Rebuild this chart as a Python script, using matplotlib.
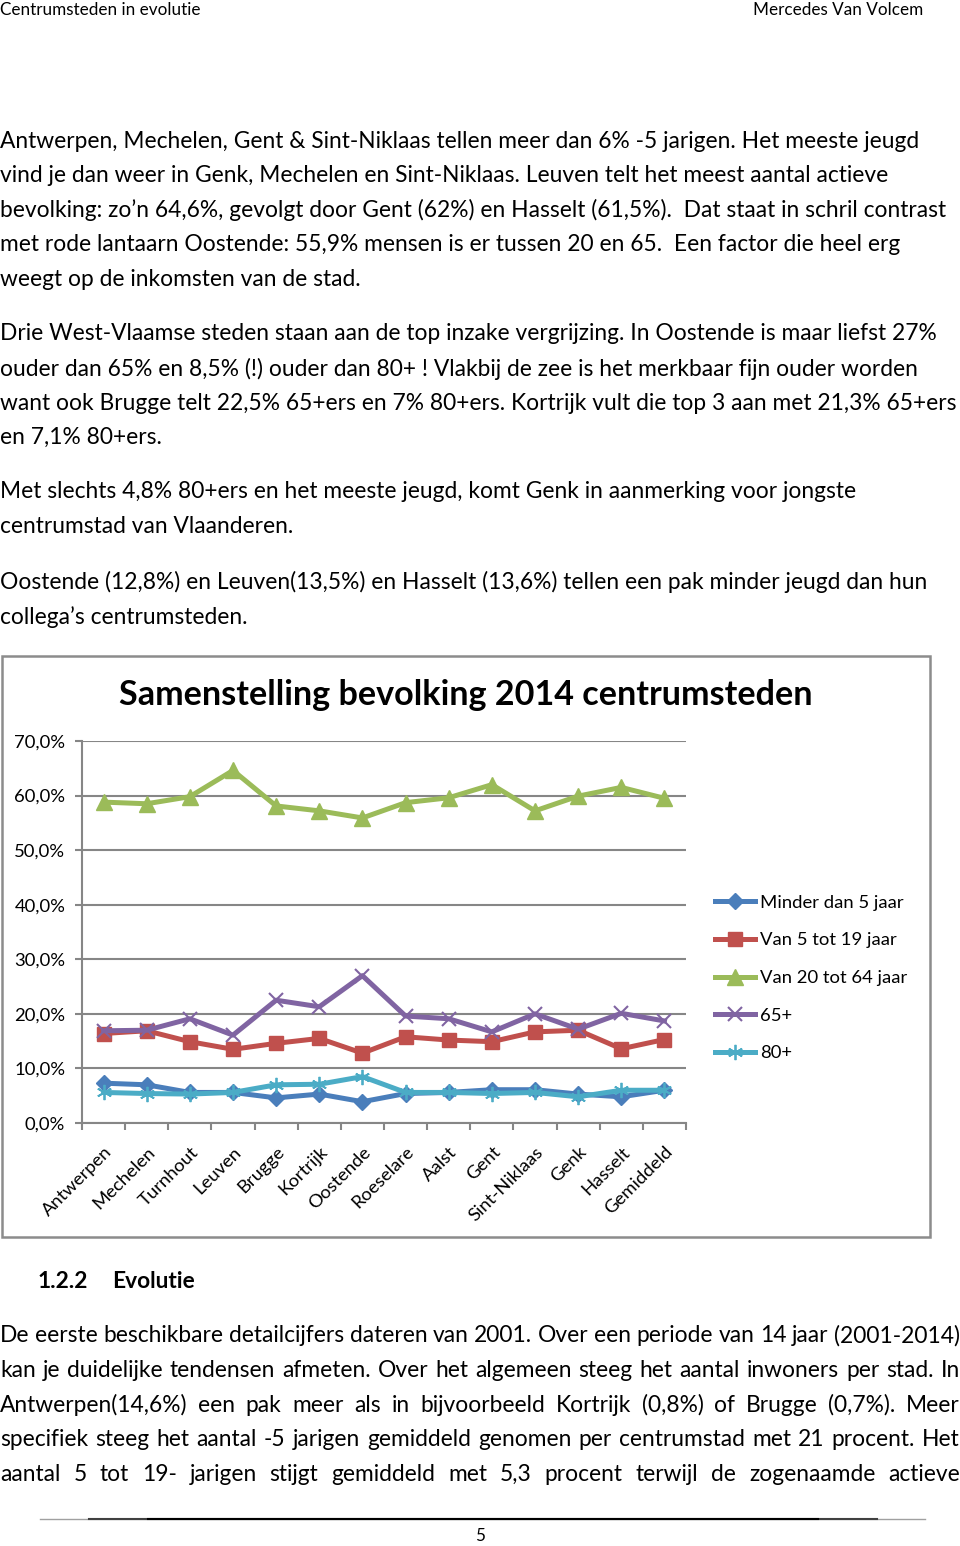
import matplotlib
matplotlib.use('Agg')
import matplotlib.pyplot as plt
from matplotlib.patches import Rectangle
from matplotlib.ticker import FixedLocator

FONT = ['Lato', 'DejaVu Sans']

steden = ['Antwerpen', 'Mechelen', 'Turnhout', 'Leuven', 'Brugge', 'Kortrijk',
          'Oostende', 'Roeselare', 'Aalst', 'Gent', 'Sint-Niklaas', 'Genk',
          'Hasselt', 'Gemiddeld']
minder_5 = [7.3, 7.0, 5.6, 5.6, 4.6, 5.3, 3.9, 5.4, 5.6, 6.1, 6.1, 5.3, 4.8, 6.0]
van_5_19 = [16.4, 16.9, 14.9, 13.5, 14.6, 15.5, 12.8, 15.8, 15.2, 14.9, 16.7, 17.0, 13.6, 15.3]
van_20_64 = [58.8, 58.5, 59.8, 64.6, 58.1, 57.2, 55.9, 58.7, 59.6, 62.0, 57.2, 59.9, 61.5, 59.5]
plus_65 = [16.9, 17.0, 19.1, 16.1, 22.5, 21.3, 27.0, 19.6, 19.1, 16.7, 20.0, 17.2, 20.1, 18.7]
plus_80 = [5.6, 5.4, 5.3, 5.6, 7.0, 7.1, 8.5, 5.6, 5.6, 5.4, 5.6, 4.8, 6.0, 6.0]
reeksen = ['Minder dan 5 jaar', 'Van 5 tot 19 jaar', 'Van 20 tot 64 jaar', '65+', '80+']
y_ticks = [0, 10, 20, 30, 40, 50, 60, 70]

para1 = ["Antwerpen, Mechelen, Gent & Sint-Niklaas tellen meer dan 6% -5 jarigen. Het meeste jeugd",
         "vind je dan weer in Genk, Mechelen en Sint-Niklaas. Leuven telt het meest aantal actieve",
         "bevolking: zo’n 64,6%, gevolgt door Gent (62%) en Hasselt (61,5%).  Dat staat in schril contrast",
         "met rode lantaarn Oostende: 55,9% mensen is er tussen 20 en 65.  Een factor die heel erg",
         "weegt op de inkomsten van de stad."]
para2 = ["Drie West-Vlaamse steden staan aan de top inzake vergrijzing. In Oostende is maar liefst 27%",
         "ouder dan 65% en 8,5% (!) ouder dan 80+ ! Vlakbij de zee is het merkbaar fijn ouder worden",
         "want ook Brugge telt 22,5% 65+ers en 7% 80+ers. Kortrijk vult die top 3 aan met 21,3% 65+ers",
         "en 7,1% 80+ers."]
para3 = ["Met slechts 4,8% 80+ers en het meeste jeugd, komt Genk in aanmerking voor jongste",
         "centrumstad van Vlaanderen."]
para4 = ["Oostende (12,8%) en Leuven(13,5%) en Hasselt (13,6%) tellen een pak minder jeugd dan hun",
         "collega’s centrumsteden."]
para5 = ["De eerste beschikbare detailcijfers dateren van 2001. Over een periode van 14 jaar (2001-2014)",
         "kan je duidelijke tendensen afmeten. Over het algemeen steeg het aantal inwoners per stad.  In",
         "Antwerpen(14,6%) een pak meer als in bijvoorbeeld Kortrijk (0,8%) of Brugge (0,7%). Meer",
         "specifiek steeg het aantal -5 jarigen gemiddeld genomen per centrumstad met 21 procent. Het",
         "aantal 5 tot 19- jarigen stijgt gemiddeld met 5,3 procent terwijl de zogenaamde actieve"]

W, H = 960, 1546
fig = plt.figure(figsize=(W / 100, H / 100), dpi=100)
renderer = fig.canvas.get_renderer()

page = fig.add_axes([0, 0, 1, 1])
page.set_xlim(0, W)
page.set_ylim(H, 0)
page.axis('off')


def text_width(s, size, weight='normal'):
    t = page.text(0, 0, s, fontsize=size, family=FONT, weight=weight)
    w = t.get_window_extent(renderer).width
    t.remove()
    return w


def fit_size(s, width, weight='normal'):
    return 10 * width / text_width(s, 10, weight)


BODY = fit_size(para1[0], 917)
SMALL = fit_size('Centrumsteden in evolutie', 200)
CHART = fit_size('Van 20 tot 64 jaar', 147)
TITLE = fit_size('Samenstelling bevolking 2014 centrumsteden', 695, 'bold')


def put(x, y, s, size=BODY, **kw):
    page.text(x, y, s, fontsize=size, family=FONT, va='center', color='black', **kw)


def justify(y, line, x0=0, x1=W, size=BODY):
    words = line.split()
    widths = [text_width(w, size) for w in words]
    gap = (x1 - x0 - sum(widths)) / (len(words) - 1)
    x = x0
    for w, wd in zip(words, widths):
        put(x, y, w, size)
        x += wd + gap


# header
put(0, 10, 'Centrumsteden in evolutie', SMALL)
put(923, 10, 'Mercedes Van Volcem', SMALL, ha='right')

# paragraphs
for lines, y0 in [(para1, 141), (para2, 334), (para3, 492), (para4, 582)]:
    for i, line in enumerate(lines):
        put(0, y0 + i * 34.6, line)

put(38, 1281, '1.2.2', BODY, weight='bold')
put(112, 1281, 'Evolutie', BODY, weight='bold')
for i, line in enumerate(para5):
    justify(1336 + i * 34.6, line)

# footer
page.plot([40, 925], [1519, 1519], color='#a0a0a0', lw=1)
page.plot([89, 877], [1519, 1519], color='#404040', lw=1.5)
page.plot([148, 818], [1519, 1519], color='black', lw=1.5)
put(480, 1536, '5', SMALL, ha='center')

# chart frame and title
page.add_patch(Rectangle((2, 656), 928, 581, fill=False, edgecolor='#8c8c8c', lw=1.8))
put(466, 695, 'Samenstelling bevolking 2014 centrumsteden', TITLE, ha='center', weight='bold')

ax = fig.add_axes([82 / W, 1 - 1123 / H, 604 / W, 382 / H])
ax.set_facecolor('none')
x = list(range(len(steden)))
stijl = [
    (minder_5, '#4A7EBB', dict(marker='D', markersize=8)),
    (van_5_19, '#C0504D', dict(marker='s', markersize=10)),
    (van_20_64, '#9BBB59', dict(marker='^', markersize=12)),
    (plus_65, '#8064A2', dict(marker='x', markersize=10, markeredgewidth=1.5)),
    (plus_80, '#4BACC6', dict(marker=(6, 2, 0), markersize=11, markeredgewidth=1.3)),
]
for (vals, kleur, mk), naam in zip(stijl, reeksen):
    ax.plot(x, vals, color=kleur, lw=3.6, label=naam, markerfacecolor=kleur,
            markeredgecolor=kleur, **mk)

ax.set_xlim(-0.5, len(steden) - 0.5)
ax.set_ylim(0, 70)
ax.set_yticks(y_ticks)
ax.set_yticklabels([f'{v:.1f}%'.replace('.', ',') for v in y_ticks],
                   fontsize=CHART, family=FONT)
ax.yaxis.grid(True, color='#868686', lw=1.5)
ax.set_axisbelow(True)
ax.set_xticks(x)
ax.set_xticklabels(steden, rotation=45, ha='right', rotation_mode='anchor',
                   fontsize=CHART, family=FONT)
ax.xaxis.set_minor_locator(FixedLocator([i - 0.5 for i in range(len(steden) + 1)]))
ax.tick_params(axis='x', which='major', length=0, pad=15)
ax.tick_params(axis='x', which='minor', length=5, color='#868686', width=1.5)
ax.tick_params(axis='y', length=5, color='#868686', width=1.5, pad=7)
for s in ['top', 'right']:
    ax.spines[s].set_visible(False)
for s in ['left', 'bottom']:
    ax.spines[s].set_color('#868686')
    ax.spines[s].set_linewidth(1.5)

fs_px = CHART * 100 / 72
ax.legend(loc='center left', bbox_to_anchor=(715 / W, 1 - 978 / H),
          bbox_transform=fig.transFigure, frameon=False, prop={'family': FONT, 'size': CHART},
          handlelength=40 / fs_px, handletextpad=5 / fs_px,
          labelspacing=36.75 / fs_px - 0.82, borderpad=0, borderaxespad=0)

fig.savefig('out.png', dpi=100)
